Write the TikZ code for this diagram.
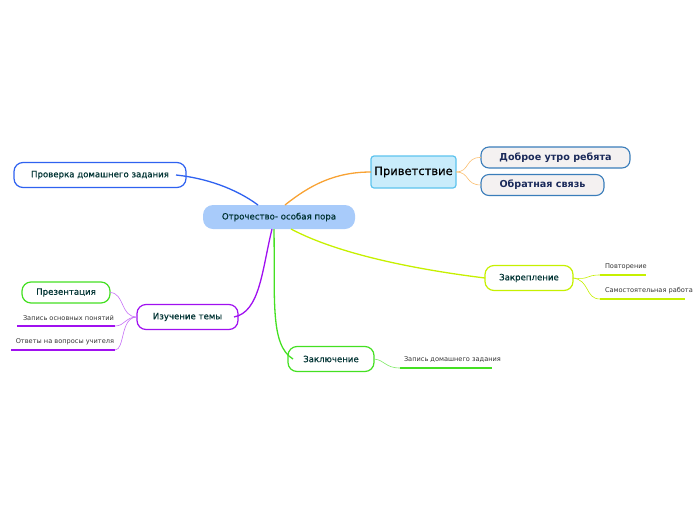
\documentclass[tikz,border=0pt]{standalone}
\usepackage{fontspec}
\setmainfont{DejaVu Sans}
\newfontface\semib[FakeBold=0.5]{DejaVu Sans}
\begin{document}
\begin{tikzpicture}[x=1pt,y=-1pt,
  every node/.style={inner sep=0pt,outer sep=0pt},
  txt/.style={text=teal!40!black},
  topic/.style={draw,line width=1.2pt,rounded corners=9pt,fill=white,minimum height=25pt,font=\semib\fontsize{8.6}{10}\selectfont,txt},
  leaf/.style={font=\fontsize{6.6}{8}\selectfont,text=black!80,anchor=south west},
  conn/.style={line width=1.3pt},
  thin/.style={line width=0.6pt}
]
\definecolor{cblue}{HTML}{2F62F0}
\definecolor{corange}{HTML}{F8A233}
\definecolor{cyg}{HTML}{C6F000}
\definecolor{cpurple}{HTML}{A010F0}
\definecolor{cgreen}{HTML}{44E022}
\definecolor{cfill}{HTML}{A8CBFA}
\definecolor{privfill}{HTML}{C9ECFB}
\definecolor{privdraw}{HTML}{5CC3EE}
\definecolor{subfill}{HTML}{F4F1F1}
\definecolor{subdraw}{HTML}{3A7DBA}
\definecolor{subtext}{HTML}{1B2A5A}
\useasboundingbox (0,0) rectangle (696,520);

% nodes
\node[fill=cfill,rounded corners=10pt,minimum width=152pt,minimum height=24pt,font=\semib\fontsize{8.6}{10}\selectfont,txt] (c) at (279,217) {Отрочество- особая пора};
\node[topic,draw=cblue,minimum width=172pt] (pr) at (100,175) {Проверка домашнего задания};
\node[draw=privdraw,fill=privfill,line width=1.2pt,rounded corners=3pt,minimum width=85pt,minimum height=32pt,font=\semib\fontsize{11.5}{13}\selectfont] (pv) at (413.5,172) {Приветствие};
\node[draw=subdraw,fill=subfill,line width=1.1pt,rounded corners=8pt,minimum width=149pt,minimum height=21pt,font=\bfseries\fontsize{9.6}{11}\selectfont,text=subtext] (d1) at (555.5,157.5) {Доброе утро ребята};
\node[draw=subdraw,fill=subfill,line width=1.1pt,rounded corners=8pt,minimum width=123pt,minimum height=21pt,font=\bfseries\fontsize{9.6}{11}\selectfont,text=subtext] (d2) at (542.5,185) {Обратная связь};
\node[topic,draw=cyg,minimum width=88pt] (z) at (529,278) {Закрепление};
\node[topic,draw=cpurple,minimum width=101pt] (iz) at (187.5,317) {Изучение темы};
\node[topic,draw=cgreen,minimum width=88pt,minimum height=21pt] (pz) at (66,292.5) {Презентация};
\node[topic,draw=cgreen,minimum width=86pt] (zk) at (331,359) {Заключение};

% leaves
\coordinate (l1a) at (600,275); \coordinate (l1b) at (646,275);
\coordinate (l2a) at (600,299); \coordinate (l2b) at (685,299);
\node[leaf] (t1) at (605,270) {Повторение};
\node[leaf] (t2) at (605,294) {Самостоятельная работа};
\draw[cyg,line width=1.4pt] (l1a) -- (l1b);
\draw[cyg,line width=1.4pt] (l2a) -- (l2b);

\coordinate (p1a) at (115,326); \coordinate (p1b) at (17,326);
\coordinate (p2a) at (115,350); \coordinate (p2b) at (11,350);
\node[leaf,anchor=south east] (t3) at (114,321) {Запись основных понятий};
\node[leaf,anchor=south east] (t4) at (114,345) {Ответы на вопросы учителя};
\draw[cpurple,line width=1.4pt] (p1a) -- (p1b);
\draw[cpurple,line width=1.4pt] (p2a) -- (p2b);

\coordinate (k1a) at (400,368); \coordinate (k1b) at (492,368);
\node[leaf] (t5) at (404,362) {Запись домашнего задания};
\draw[cgreen,line width=1.4pt] (k1a) -- (k1b);

% main connectors
\draw[conn,cblue] ([xshift=-21pt]c.north) .. controls (235,188) and (205,178) .. ([xshift=-10pt]pr.east);
\draw[conn,corange] ([xshift=6pt]c.north) .. controls (310,185) and (335,172) .. (pv.west);
\draw[conn,cyg] ([xshift=12pt]c.south) .. controls (340,255) and (420,270) .. (z.west);
\draw[conn,cpurple] ([xshift=-7pt]c.south) .. controls (262,270) and (260,312) .. ([xshift=-4pt]iz.east);
\draw[conn,cgreen] ([xshift=-5pt]c.south) .. controls (275,300) and (270,345) .. ([xshift=5pt]zk.west);

% thin connectors
\draw[thin,corange!70] (pv.east) .. controls (470,172) and (465,157) .. (d1.west);
\draw[thin,corange!70] (pv.east) .. controls (470,172) and (465,185) .. (d2.west);
\draw[thin,cyg] (z.east) .. controls (590,280) and (585,275) .. (l1a);
\draw[thin,cyg] (z.east) .. controls (590,280) and (585,299) .. (l2a);
\draw[thin,cpurple!60] (iz.west) .. controls (120,317) and (125,293) .. (pz.east);
\draw[thin,cpurple!60] (iz.west) .. controls (125,317) and (125,326) .. (p1a);
\draw[thin,cpurple!60] (iz.west) .. controls (120,317) and (125,350) .. (p2a);
\draw[thin,cgreen!70] (zk.east) .. controls (385,360) and (385,368) .. (k1a);
\end{tikzpicture}
\end{document}
